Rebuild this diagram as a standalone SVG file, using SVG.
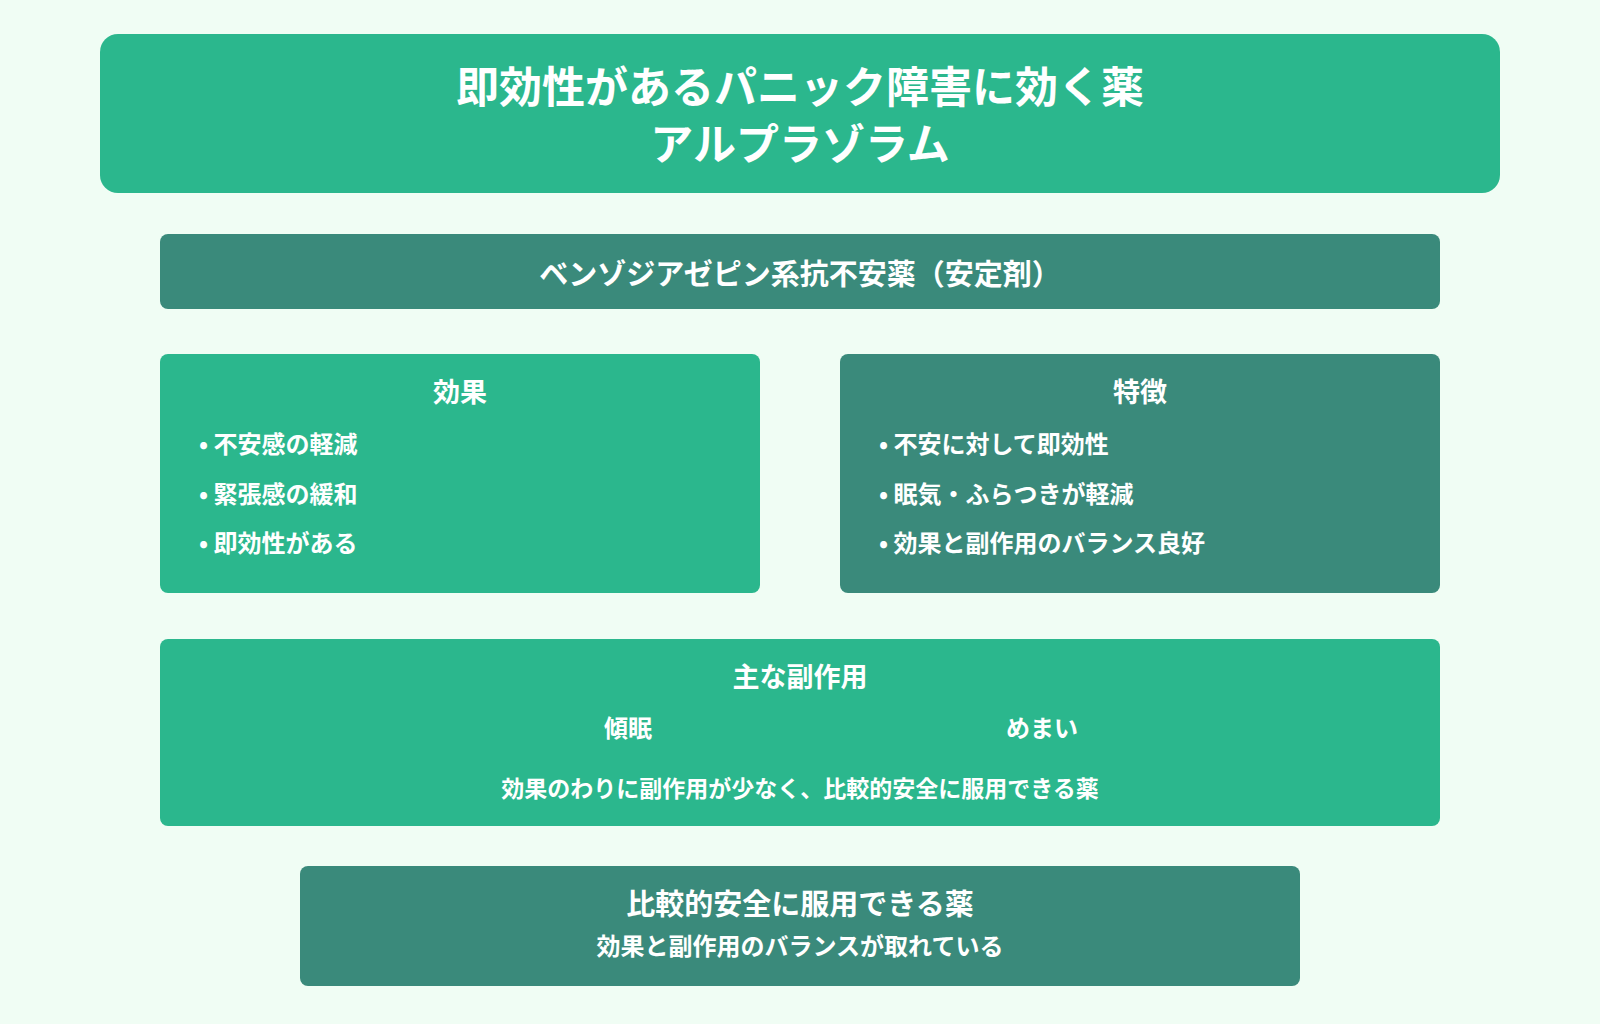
<svg xmlns="http://www.w3.org/2000/svg" width="1600" height="1024" viewBox="0 0 1600 1024">
<style>
text{font-family:"Noto Sans CJK JP","Noto Sans",sans-serif;fill:#fff;font-weight:700;dominant-baseline:central}
.c{text-anchor:middle}
.g{fill:#2bb78d}.d{fill:#3a8a7b}
</style>
<rect width="1600" height="1024" fill="#f0fdf4"/>
<g id="title"><rect class="g" x="100" y="34" width="1400" height="159" rx="18"/>
<text class="c" x="800" y="84" font-size="43">即効性があるパニック障害に効く薬</text>
<text class="c" x="800" y="141" font-size="43">アルプラゾラム</text></g>
<g id="category"><rect class="d" x="160" y="234" width="1280" height="75" rx="8"/>
<text class="c" x="800" y="272" font-size="29">ベンゾジアゼピン系抗不安薬（安定剤）</text></g>
<g id="effects"><rect class="g" x="160" y="354" width="600" height="239" rx="8"/>
<text class="c" x="460" y="390" font-size="27">効果</text>
<text x="199" y="442" font-size="24">• 不安感の軽減</text>
<text x="199" y="492" font-size="24">• 緊張感の緩和</text>
<text x="199" y="541" font-size="24">• 即効性がある</text></g>
<g id="features"><rect class="d" x="840" y="354" width="600" height="239" rx="8"/>
<text class="c" x="1140" y="390" font-size="27">特徴</text>
<text x="879" y="442" font-size="24">• 不安に対して即効性</text>
<text x="879" y="492" font-size="24">• 眠気・ふらつきが軽減</text>
<text x="879" y="541" font-size="24">• 効果と副作用のバランス良好</text></g>
<g id="sideeffects"><rect class="g" x="160" y="639" width="1280" height="187" rx="8"/>
<text class="c" x="800" y="675" font-size="27">主な副作用</text>
<text class="c" x="628" y="726" font-size="24">傾眠</text>
<text class="c" x="1042" y="726" font-size="24">めまい</text>
<text class="c" x="800" y="787" font-size="23">効果のわりに副作用が少なく、比較的安全に服用できる薬</text></g>
<g id="summary"><rect class="d" x="300" y="866" width="1000" height="120" rx="8"/>
<text class="c" x="800" y="902" font-size="29">比較的安全に服用できる薬</text>
<text class="c" x="800" y="944" font-size="24">効果と副作用のバランスが取れている</text></g>
<g id="connectors"/>
</svg>
